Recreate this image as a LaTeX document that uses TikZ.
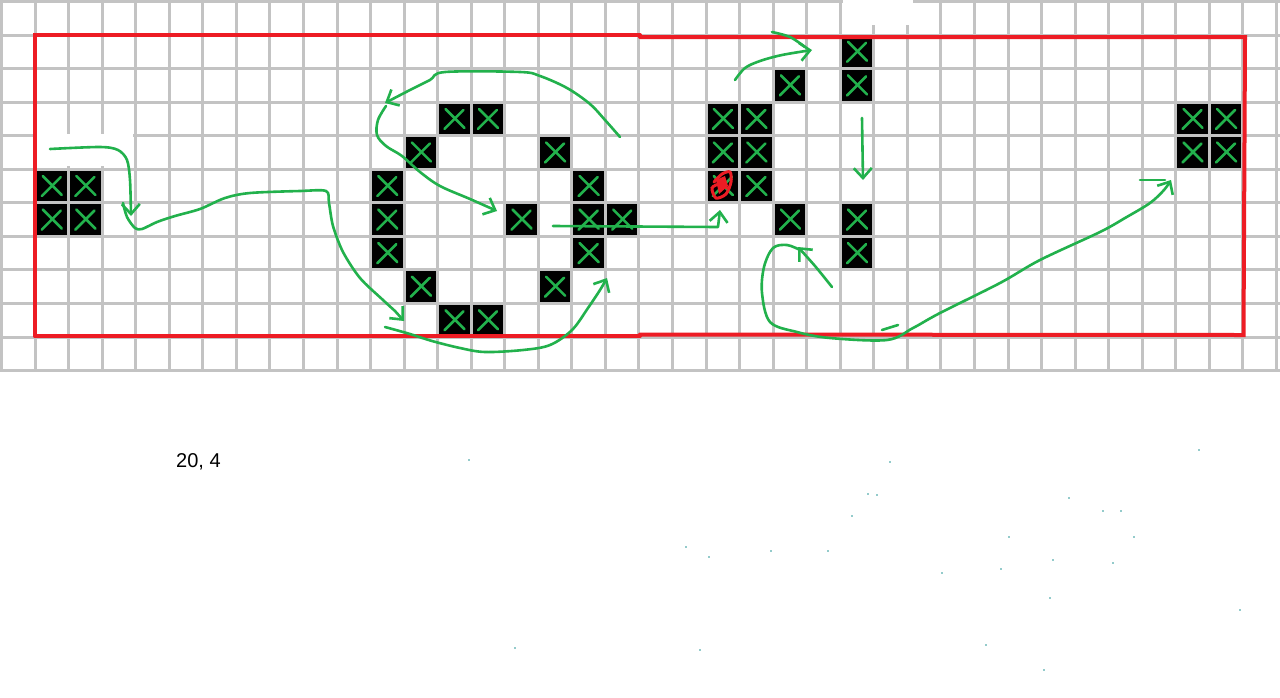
\documentclass[tikz,border=0pt]{standalone}
\usepackage{fontspec}
\setmainfont{Liberation Sans}
\usetikzlibrary{arrows.meta}
\definecolor{gridgray}{RGB}{195,195,195}
\definecolor{pgreen}{RGB}{34,177,76}
\definecolor{pred}{RGB}{237,28,36}
\definecolor{dotteal}{RGB}{40,150,150}
\begin{document}
\begin{tikzpicture}[x=1pt,y=-1pt,
  gridline/.style={gridgray, line width=3pt},
  redline/.style={pred, line width=4pt, line cap=round, line join=miter},
  stroke/.style={pgreen, line width=2.6pt, line cap=round, line join=round},
  arr/.style={stroke, -{Straight Barb[length=10pt,width=18pt,line width=2.6pt]}},
  label/.style={font=\fontsize{20}{24}\selectfont, inner sep=0pt, anchor=base west},
]
\useasboundingbox (0,0) rectangle (1280,697);
\fill[white] (0,0) rectangle (1280,697);
% grid
\foreach \k in {0,...,38} \draw[gridline] ({1.5+33.55*\k},0) -- ({1.5+33.55*\k},371.5);
\foreach \k in {0,...,11} \draw[gridline] (0,{1.5+33.55*\k}) -- (1280,{1.5+33.55*\k});
% erased patches
\fill[white] (36.5,133.5) rectangle (133,166);
\fill[white] (843,0) rectangle (913,25);
% live cells
\foreach \c/\r in {1/5,2/5,1/6,2/6,
  11/5,11/6,11/7,12/4,12/8,13/3,14/3,13/9,14/9,15/6,16/4,16/8,17/5,17/6,17/7,18/6,
  21/3,22/3,21/4,22/4,21/5,22/5,23/2,23/6,25/1,25/2,25/6,25/7,
  35/3,36/3,35/4,36/4}
{
  \fill[black] ({3+33.55*\c},{3+33.55*\r}) rectangle ++(30.55,30.55);
}
% red frame
\draw[redline] (35,336) -- (35,35) -- (640,35);
\draw[redline] (640,37) -- (1245,37) -- (1244.5,140) -- (1243.5,335) -- (640,334.5);
\draw[redline] (640,336) -- (35,336);
% green crosses
\foreach \c/\r in {1/5,2/5,1/6,2/6,
  11/5,11/6,11/7,12/4,12/8,13/3,14/3,13/9,14/9,15/6,16/4,16/8,17/5,17/6,17/7,18/6,
  21/3,22/3,21/4,22/4,21/5,22/5,23/2,23/6,25/1,25/2,25/6,25/7,
  35/3,36/3,35/4,36/4}
{
  \pgfmathsetmacro\cx{1.5+33.55*(\c+0.5)}
  \pgfmathsetmacro\cy{1.5+33.55*(\r+0.5)}
  \draw[stroke] ({\cx-9},{\cy-10}) -- ({\cx+10},{\cy+9});
  \draw[stroke] ({\cx+9},{\cy-9}) -- ({\cx-10},{\cy+10});
}
% red scribble on one cell
\draw[pred, line width=3pt, line cap=round] plot[smooth] coordinates {(714,182) (722,174) (730,172) (731,182) (726,194) (716,198) (712,188) (720,184) (727,188)};
\fill[pred] (716,180) -- (725,176) -- (728,186) -- (719,194) -- cycle;
% green strokes
\draw[arr] plot[smooth, tension=0.5] coordinates {(50,149) (100,147) (118,150) (127,160) (130,180) (131,216)};
\draw[stroke] plot[smooth, tension=0.5] coordinates {(123,203) (127,217) (135,228) (142,229) (157,222) (175,216) (200,209) (225,198) (250,193) (300,191) (326,191) (329,203) (333,226) (343,252) (360,278) (383,300) (395,311)};
\draw[arr] (395,311) -- (404,321);
\draw[arr] plot[smooth, tension=0.55] coordinates {(385,327) (410,334) (432,341) (460,348) (485,352) (523,350) (550,345) (572,330) (588,308) (600,290) (607,278)};
\draw[arr] plot[smooth, tension=0.55] coordinates {(620,137) (605,120) (590,104) (567,88) (540,76) (520,72) (445,72) (430,80) (410,90) (385,103)};
\draw[arr] plot[smooth, tension=0.55] coordinates {(386,106) (378,120) (377,135) (386,146) (402,156) (420,172) (440,186) (470,199) (497,211)};
\draw[arr] (553,226) -- (718,227) -- (720,210);
\draw[arr] plot[smooth, tension=0.55] coordinates {(735,80) (745,68) (760,61) (782,55) (812,50)};
\draw[stroke] plot[smooth, tension=0.55] coordinates {(772,32) (790,37) (805,47)};
\draw[arr] (862,118) -- (863,180);
\draw[arr] plot[smooth, tension=0.5] coordinates {(832,287) (815,266) (798,247)};
\draw[arr] plot[smooth, tension=0.55] coordinates {(800,250) (787,245) (773,248) (764,267) (762,293) (770,322) (797,332) (830,338) (887,340) (913,328) (940,313) (1000,283) (1040,260) (1100,232) (1125,218) (1150,203) (1164,190) (1171,180)};
\draw[stroke] (882,330) -- (898,325);
\draw[stroke] (1140,180) -- (1165,180);
% label
\node[label] (lbl) at (176,467) {20, 4};
% specks
\foreach \px/\py in {469/460,890/462,1199/450,868/494,877/495,1069/498,852/516,1103/511,1121/511,1009/537,1134/537,686/547,709/557,771/551,828/551,1053/560,1113/563,942/573,1001/569,1050/598,1240/610,515/648,700/650,986/645,1044/670}
  \fill[dotteal] (\px,\py) circle (0.8);
\end{tikzpicture}
\end{document}
